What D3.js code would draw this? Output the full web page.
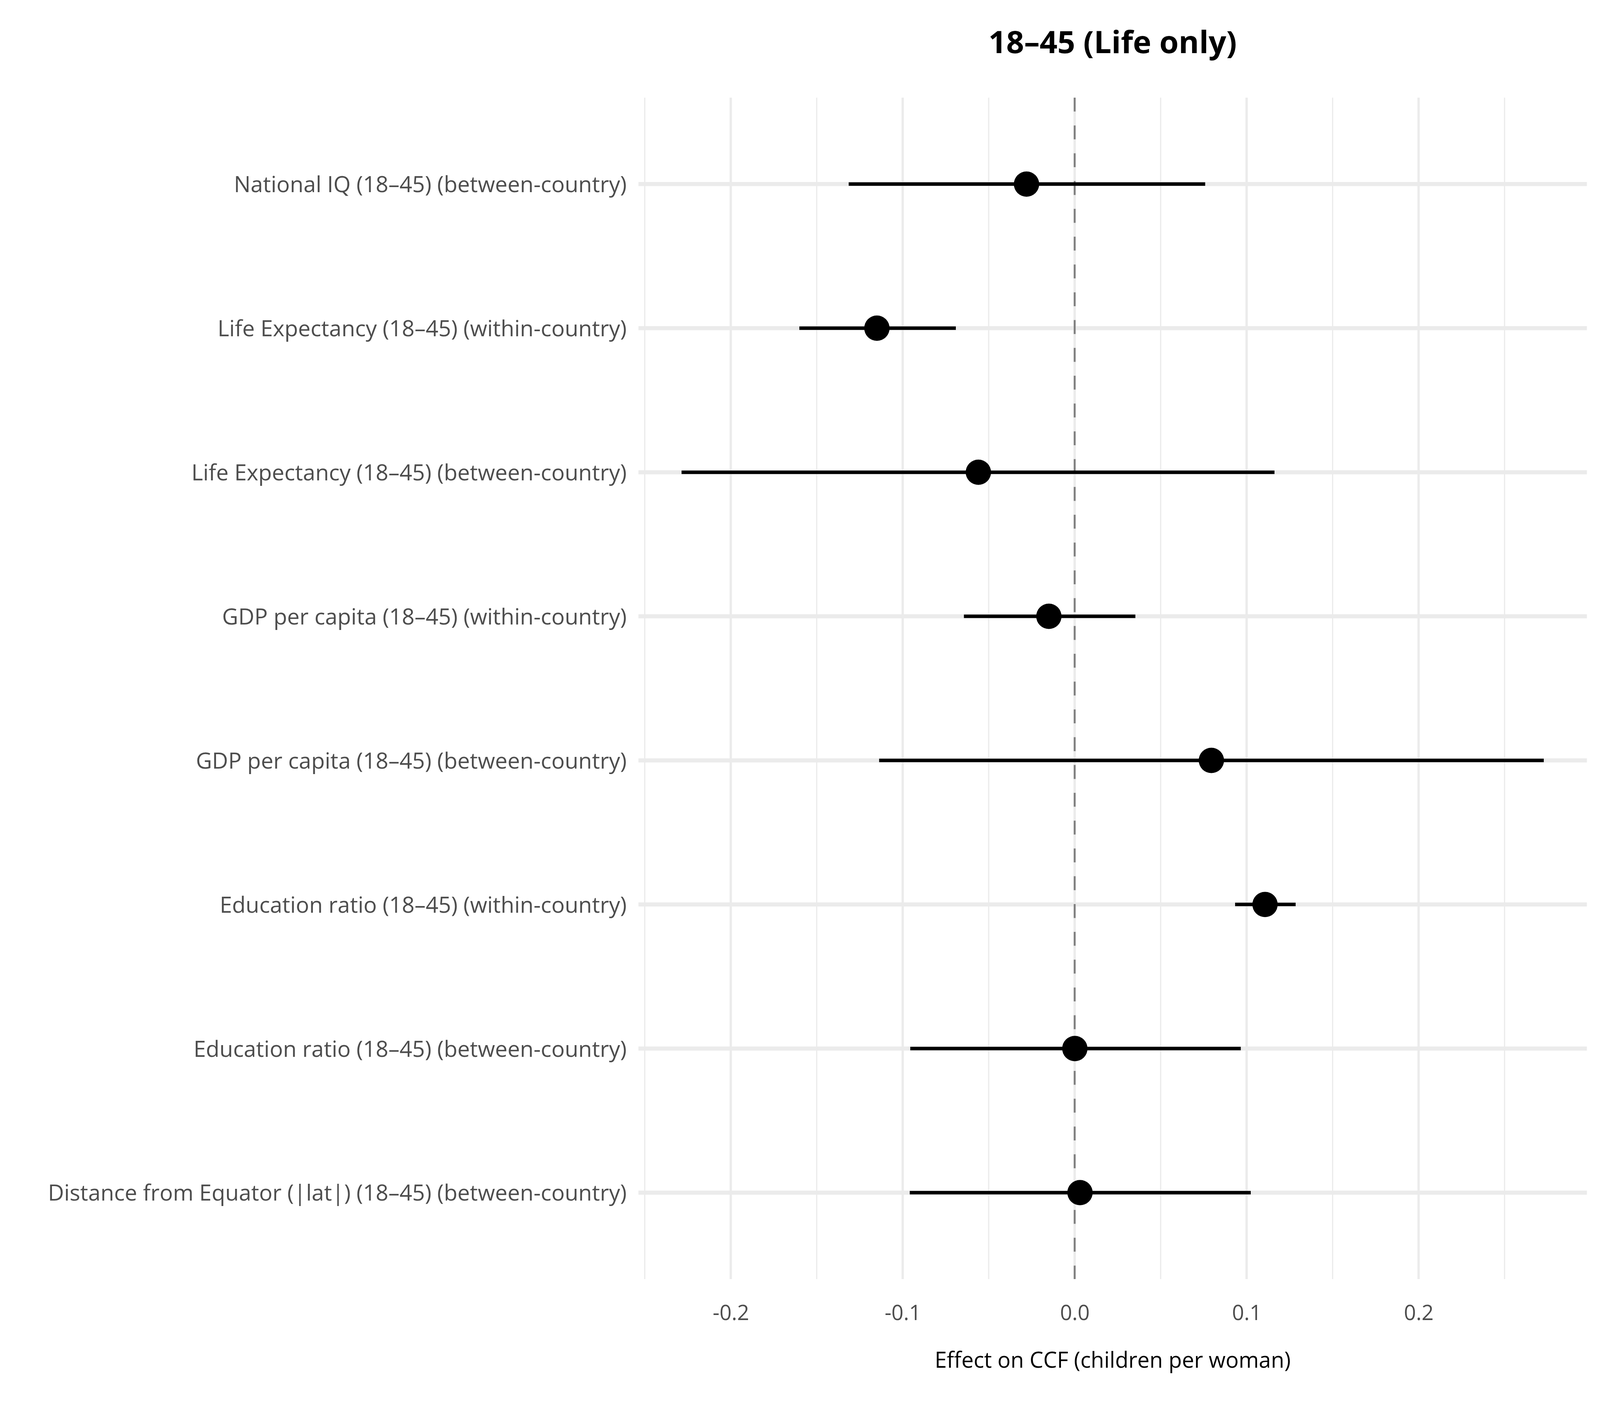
<!DOCTYPE html>
<html>
<head>
<meta charset="utf-8">
<script src="https://cdn.jsdelivr.net/npm/d3@7"></script>
<style>
	html, body { margin: 0; padding: 0; width: 100%; height: 100%; overflow: hidden; background: #fff; }
	svg { display: block; }
	svg text { font-family: "Open Sans", "Noto Sans", sans-serif; }
</style>
</head>
<body>
<div id="charts"></div>
<script>
// predictors, top to bottom
var labels = [
	"National IQ (18–45) (between-country)",
	"Life Expectancy (18–45) (within-country)",
	"Life Expectancy (18–45) (between-country)",
	"GDP per capita (18–45) (within-country)",
	"GDP per capita (18–45) (between-country)",
	"Education ratio (18–45) (within-country)",
	"Education ratio (18–45) (between-country)",
	"Distance from Equator (|lat|) (18–45) (between-country)"
];
var estimates = [-0.028, -0.115, -0.056, -0.015, 0.0795, 0.1107, 0.0001, 0.0031];
var lower = [-0.1314, -0.1601, -0.2286, -0.0644, -0.1137, 0.0933, -0.0956, -0.0959];
var upper = [0.0759, -0.0691, 0.1162, 0.0353, 0.2728, 0.1285, 0.0966, 0.1024];
var majorTicks = [-0.2, -0.1, 0.0, 0.1, 0.2];
var minorTicks = [-0.25, -0.15, -0.05, 0.05, 0.15, 0.25];

var title = "18–45 (Life only)";
var xTitle = "Effect on CCF (children per woman)";

// layout is designed for 7200x3600 and stretched to the real window
var width = window.innerWidth || 7200,
	height = window.innerHeight || 3600;
var sx = width / 7200, sy = height / 3600;
var fs = Math.min(sx, sy);
var panel = {left: 2873 * sx, right: 7141 * sx, top: 250 * sy, bottom: 3275 * sy};

var rows = labels.map(function (d, i) {
	return {label: d, est: estimates[i], lo: lower[i], hi: upper[i]};
});

var svg = d3.select("#charts")
	.append("svg")
	.attr("width", width)
	.attr("height", height);

// ggplot style 5% expansion
var lo = d3.min(lower), hi = d3.max(upper);
var pad = (hi - lo) * 0.05;
var x = d3.scaleLinear()
	.domain([lo - pad, hi + pad])
	.range([panel.left, panel.right]);

var y = d3.scalePoint()
	.domain(labels)
	.range([panel.top, panel.bottom])
	.padding(0.6);

// grid
svg.append("g").selectAll("line")
	.data(minorTicks)
	.enter()
	.append("line")
	.attr("x1", function (d) { return x(d); })
	.attr("x2", function (d) { return x(d); })
	.attr("y1", panel.top)
	.attr("y2", panel.bottom)
	.attr("stroke", "#EBEBEB")
	.attr("stroke-width", 5.5 * sx);

svg.append("g").selectAll("line")
	.data(majorTicks)
	.enter()
	.append("line")
	.attr("x1", function (d) { return x(d); })
	.attr("x2", function (d) { return x(d); })
	.attr("y1", panel.top)
	.attr("y2", panel.bottom)
	.attr("stroke", "#EBEBEB")
	.attr("stroke-width", 10.5 * sx);

svg.append("g").selectAll("line")
	.data(labels)
	.enter()
	.append("line")
	.attr("x1", panel.left)
	.attr("x2", panel.right)
	.attr("y1", function (d) { return y(d); })
	.attr("y2", function (d) { return y(d); })
	.attr("stroke", "#EBEBEB")
	.attr("stroke-width", 10.5 * sy);

// zero reference
svg.append("line")
	.attr("x1", x(0))
	.attr("x2", x(0))
	.attr("y1", panel.top)
	.attr("y2", panel.bottom)
	.attr("stroke", "#7F7F7F")
	.attr("stroke-width", 8.5 * sx)
	.attr("stroke-dasharray", (35.6 * sy) + "," + (35.6 * sy));

// intervals
svg.append("g").selectAll("line")
	.data(rows)
	.enter()
	.append("line")
	.attr("x1", function (d) { return x(d.lo); })
	.attr("x2", function (d) { return x(d.hi); })
	.attr("y1", function (d) { return y(d.label); })
	.attr("y2", function (d) { return y(d.label); })
	.attr("stroke", "#000")
	.attr("stroke-width", 9 * sy);

svg.append("g").selectAll("circle")
	.data(rows)
	.enter()
	.append("circle")
	.attr("cx", function (d) { return x(d.est); })
	.attr("cy", function (d) { return y(d.label); })
	.attr("r", 43 * Math.sqrt(sx * sy))
	.attr("fill", "#000");

// y axis labels
var yAxis = d3.axisLeft(y).tickSize(0).tickPadding(53 * sx);
var gy = svg.append("g")
	.attr("transform", "translate(" + panel.left + ",0)")
	.call(yAxis);
gy.select(".domain").remove();
gy.selectAll("text")
	.attr("font-size", 100 * fs)
	.attr("fill", "#4D4D4D")
	.attr("dy", "0.357em");

// x axis labels, vertically centred where the reference has them
var xAxis = d3.axisBottom(x).tickValues(majorTicks).tickSize(0).tickPadding(0);
var gx = svg.append("g")
	.attr("transform", "translate(0," + (3361 * sy) + ")")
	.call(xAxis);
gx.select(".domain").remove();
gx.selectAll("text")
	.attr("y", 0)
	.attr("dy", "0.357em")
	.attr("font-size", 95 * fs)
	.attr("fill", "#4D4D4D")
	.text(function (d) { return d3.format(".1f")(d).replace("−", "-"); });

var cx = (panel.left + panel.right) / 2;

svg.append("text")
	.attr("x", cx)
	.attr("y", 3482 * sy)
	.attr("dy", "0.357em")
	.attr("text-anchor", "middle")
	.attr("font-size", 98 * fs)
	.attr("fill", "#000")
	.text(xTitle);

svg.append("text")
	.attr("x", cx)
	.attr("y", 108 * sy)
	.attr("dy", "0.357em")
	.attr("text-anchor", "middle")
	.attr("font-size", 140 * fs)
	.attr("font-weight", "bold")
	.attr("fill", "#000")
	.text(title);
</script>
</body>
</html>
